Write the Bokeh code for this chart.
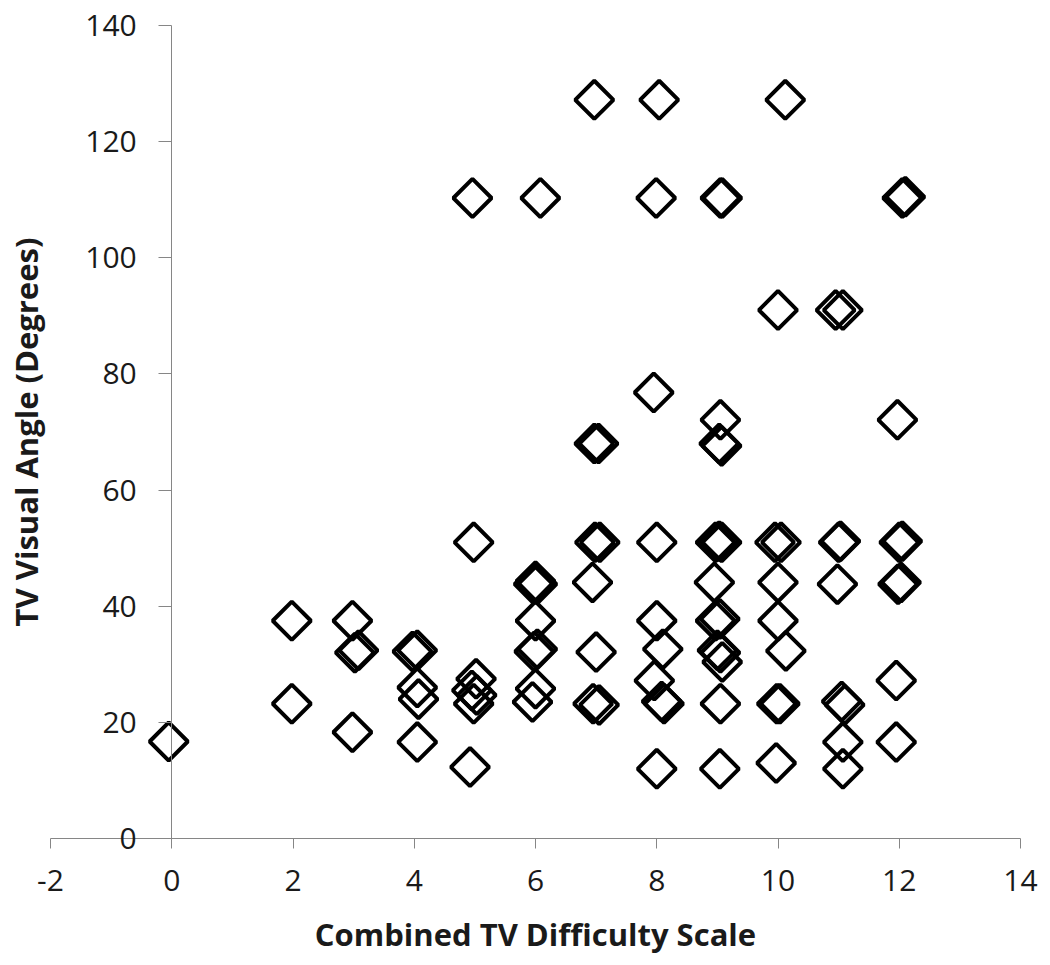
import numpy as np
from bokeh.plotting import figure
from bokeh.models import Range1d, FixedTicker, ColumnDataSource
from bokeh.embed import file_html
from bokeh.resources import INLINE

# Combined TV Difficulty Scale (x) and TV Visual Angle in degrees (y)
difficulty = [
    -0.05,
    1.98, 1.98,
    2.98, 3.02, 3.08, 2.98,
    3.97, 4.05, 4.05, 4.07, 4.05,
    4.92, 4.98, 4.96, 5.02, 4.95, 5.03, 4.98,
    6.08, 5.97, 6.00, 6.03, 6.00, 5.98, 6.03, 6.00, 5.95,
    6.97, 6.97, 7.04, 6.98, 7.06, 6.94, 7.00, 6.95, 7.05,
    8.04, 7.99, 7.95, 8.00, 8.00, 8.10, 7.96, 8.08, 8.12, 8.00,
    9.05, 9.08, 9.05, 9.03, 9.07, 8.97, 9.03, 9.07, 8.95, 8.97, 9.04, 9.00, 9.05, 9.08, 9.05, 9.04,
    10.12, 10.00, 9.95, 10.05, 10.00, 10.00, 10.13, 9.98, 10.03, 9.97,
    10.95, 11.07, 11.00, 11.03, 10.98, 11.05, 11.10, 11.07, 11.07,
    12.05, 12.10, 11.97, 12.00, 12.05, 11.98, 12.03, 11.95, 11.95,
]
visual_angle = [
    16.7,
    37.5, 23.2,
    37.5, 32.0, 32.4, 18.3,
    32.2, 32.4, 26.0, 24.0, 16.6,
    12.3, 51.0, 110.3, 27.5, 25.5, 24.7, 23.2,
    110.3, 43.8, 44.3, 43.8, 37.5, 32.2, 32.6, 25.8, 23.5,
    127.2, 68.0, 68.0, 51.0, 51.0, 44.1, 32.1, 23.2, 23.0,
    127.2, 110.3, 76.8, 51.0, 37.5, 32.6, 27.2, 23.6, 23.2, 12.0,
    110.3, 110.3, 72.1, 68.0, 67.6, 51.0, 51.2, 51.0, 44.1, 37.5, 37.8, 32.4, 32.0, 30.4, 23.2, 12.0,
    127.2, 91.0, 51.0, 51.0, 44.1, 37.5, 32.3, 23.2, 23.2, 13.0,
    91.0, 91.0, 51.0, 51.2, 43.8, 23.6, 23.0, 16.6, 12.0,
    110.3, 110.5, 72.1, 51.0, 51.2, 43.8, 44.1, 27.2, 16.6,
]
x_ticks = [-2, 0, 2, 4, 6, 8, 10, 12, 14]
y_ticks = [0, 20, 40, 60, 80, 100, 120, 140]
x_axis_min, x_axis_max = -2, 14
y_axis_min, y_axis_max = 0, 140

FONT = "Open Sans"
AXIS_COLOR = "#868686"
TEXT_COLOR = "#1a1a1a"

# Layout: the plotting frame fills the whole canvas so that both axes can cross
# at the origin without their labels being clipped.
W, H = 1046, 962
X_LEFT_PX, X_RIGHT_PX = 50.0, 1020.0      # pixel of x = -2 and x = 14
Y_TOP_PX, Y_BOTTOM_PX = 25.0, 838.0       # pixel of y = 140 and y = 0
sx = (X_RIGHT_PX - X_LEFT_PX) / (x_axis_max - x_axis_min)
sy = (Y_BOTTOM_PX - Y_TOP_PX) / (y_axis_max - y_axis_min)
x_start = x_axis_min - X_LEFT_PX / sx
x_end = x_axis_max + (W - X_RIGHT_PX) / sx
y_end = y_axis_max + Y_TOP_PX / sy
y_start = y_axis_min - (H - Y_BOTTOM_PX) / sy

p = figure(width=W, height=H, output_backend="svg", toolbar_location=None,
           x_range=Range1d(x_start, x_end), y_range=Range1d(y_start, y_end),
           min_border=0, min_border_left=0, min_border_right=0,
           min_border_top=0, min_border_bottom=0)
p.outline_line_color = None
p.xgrid.visible = False
p.ygrid.visible = False
p.background_fill_color = "white"
p.border_fill_color = "white"

src = ColumnDataSource(dict(x=difficulty, y=visual_angle))
p.scatter("x", "y", source=src, marker="square", angle=np.pi / 4, size=27,
          fill_alpha=0, line_color="black", line_width=4)

# x axis along y = 0
xa = p.xaxis[0]
xa.fixed_location = 0
xa.bounds = (x_axis_min, x_axis_max)
xa.ticker = FixedTicker(ticks=x_ticks)
xa.major_label_overrides = {t: str(t) for t in x_ticks}
xa.minor_tick_line_color = None
xa.axis_line_color = AXIS_COLOR
xa.major_tick_line_color = AXIS_COLOR
xa.major_tick_in = 0
xa.major_tick_out = 10
xa.major_label_text_font = FONT
xa.major_label_text_font_size = "30px"
xa.major_label_text_color = TEXT_COLOR
xa.major_label_standoff = 21
xa.axis_label = "Combined TV Difficulty Scale"
xa.axis_label_text_font = FONT
xa.axis_label_text_font_size = "31px"
xa.axis_label_text_font_style = "bold"
xa.axis_label_text_color = TEXT_COLOR
xa.axis_label_standoff = 19

# y axis along x = 0
ya = p.yaxis[0]
ya.fixed_location = 0
ya.bounds = (y_axis_min, y_axis_max)
ya.ticker = FixedTicker(ticks=y_ticks)
ya.minor_tick_line_color = None
ya.axis_line_color = AXIS_COLOR
ya.major_tick_line_color = AXIS_COLOR
ya.major_tick_in = 0
ya.major_tick_out = 13
ya.major_label_text_font = FONT
ya.major_label_text_font_size = "30px"
ya.major_label_text_color = TEXT_COLOR
ya.major_label_standoff = 22
ya.axis_label = "TV Visual Angle (Degrees)"
ya.axis_label_text_font = FONT
ya.axis_label_text_font_size = "31px"
ya.axis_label_text_font_style = "bold"
ya.axis_label_text_color = TEXT_COLOR
ya.axis_label_standoff = 35

open("out.html", "w").write(file_html(p, INLINE))
